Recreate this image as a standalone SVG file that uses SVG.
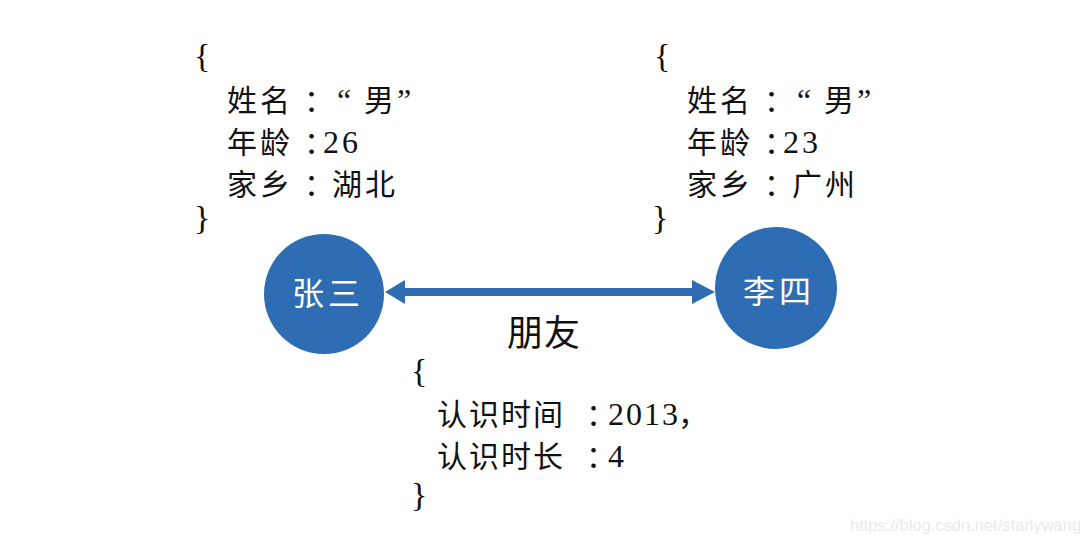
<svg xmlns="http://www.w3.org/2000/svg" width="1080" height="544" viewBox="0 0 1080 544">
<style>
.t{font-family:"Liberation Serif","Noto Sans CJK SC",serif;font-size:30px;fill:#111;}
.cj{letter-spacing:3px;}
.c{letter-spacing:-11px;}
.d{font-family:"Liberation Serif",serif;font-size:32px;}
.br{font-family:"Liberation Serif",serif;font-size:34px;fill:#111;}
.node{fill:#2E6DB4;}
.nl{font-family:"Noto Sans CJK SC",sans-serif;font-size:32px;fill:#fff;letter-spacing:4px;}
.wm{font-family:"Liberation Sans",Arial,sans-serif;font-size:16.5px;fill:#eaeaea;}
</style>
<rect width="1080" height="544" fill="#fff"/>
<g id="props-zhangsan">
<text class="br" x="194" y="67">{</text>
<text class="t cj" x="227" y="111">姓名<tspan x="304" class="c">：</tspan><tspan x="337" class="d">“</tspan><tspan x="364">男</tspan><tspan x="397" class="d">”</tspan></text>
<text class="t cj" x="227" y="153">年龄<tspan x="304" class="c">：</tspan><tspan x="323" class="d" style="letter-spacing:3px">26</tspan></text>
<text class="t cj" x="227" y="195">家乡<tspan x="304" class="c">：</tspan><tspan x="332">湖北</tspan></text>
<text class="br" x="194" y="229">}</text>
</g>
<g id="props-lisi">
<text class="br" x="654" y="67">{</text>
<text class="t cj" x="687" y="111">姓名<tspan x="764" class="c">：</tspan><tspan x="797" class="d">“</tspan><tspan x="824">男</tspan><tspan x="857" class="d">”</tspan></text>
<text class="t cj" x="687" y="153">年龄<tspan x="764" class="c">：</tspan><tspan x="783" class="d" style="letter-spacing:3px">23</tspan></text>
<text class="t cj" x="687" y="195">家乡<tspan x="764" class="c">：</tspan><tspan x="792">广州</tspan></text>
<text class="br" x="652" y="229">}</text>
</g>
<g id="connectors">
<line x1="403" y1="292" x2="694" y2="292" stroke="#2E6DB4" stroke-width="8"/>
<polygon points="385,292 405,280 405,304" fill="#2E6DB4"/>
<polygon points="715,292 692,280 692,304" fill="#2E6DB4"/>
<text class="t" x="507" y="346" style="font-size:36px;letter-spacing:1px">朋友</text>
</g>
<g id="props-friend">
<text class="br" x="411" y="382">{</text>
<text class="t" x="437" y="425" style="letter-spacing:2px">认识时间<tspan x="586" style="letter-spacing:-9px">：</tspan><tspan x="608" class="d">2013</tspan><tspan x="678">，</tspan></text>
<text class="t" x="437" y="467" style="letter-spacing:2px">认识时长<tspan x="586" style="letter-spacing:-9px">：</tspan><tspan x="608" class="d">4</tspan></text>
<text class="br" x="411" y="506">}</text>
</g>
<g id="node-zhangsan">
<circle class="node" cx="324" cy="294" r="60"/>
<text class="nl" x="328" y="305" text-anchor="middle">张三</text>
</g>
<g id="node-lisi">
<circle class="node" cx="776" cy="288" r="61"/>
<text class="nl" x="779" y="303" text-anchor="middle">李四</text>
</g>
<text class="wm" x="850" y="531">https://blog.csdn.net/starlywang</text>
</svg>
